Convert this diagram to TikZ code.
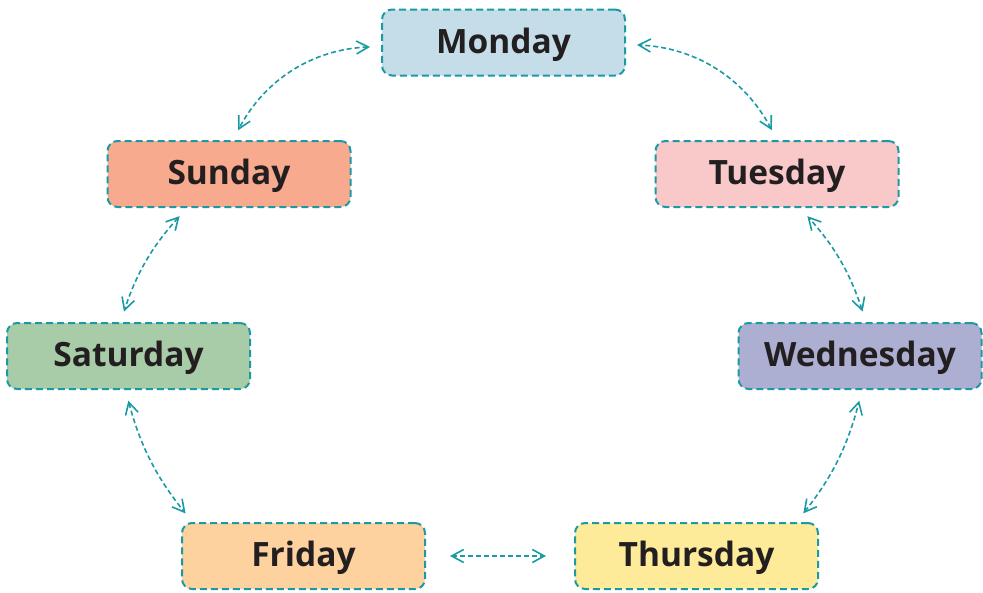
\documentclass[tikz,border=0pt]{standalone}
\usepackage{fontspec}
\setmainfont{Open Sans}
\usetikzlibrary{arrows.meta}
\definecolor{edge}{HTML}{1A9AA2}
\definecolor{txt}{HTML}{231F20}
\definecolor{cmon}{HTML}{C4DDE8}
\definecolor{ctue}{HTML}{F9C8C8}
\definecolor{cwed}{HTML}{ACAED2}
\definecolor{cthu}{HTML}{FDEB99}
\definecolor{cfri}{HTML}{FDD29E}
\definecolor{csat}{HTML}{A8CBA8}
\definecolor{csun}{HTML}{F8AA8F}
\tikzset{
    day/.style={draw=edge, line width=2pt, dash pattern=on 7pt off 4pt,
        rounded corners=10pt, minimum width=243pt, minimum height=66pt,
        text height=26pt, text depth=5pt,
        text=txt, font=\fontsize{33.5}{40}\selectfont\bfseries},
    conn/.style={draw=edge, line width=1.6pt, dash pattern=on 5pt off 3pt,
        {Straight Barb[length=12pt,width=13pt]}-{Straight Barb[length=12pt,width=13pt]},
        shorten <=11pt, shorten >=11pt}
}
\begin{document}
\begin{tikzpicture}[x=1pt,y=-1pt]
\useasboundingbox (0,0) rectangle (983,592);
\node[day, fill=cmon] (mon) at (503.5,42.5) {Monday};
\node[day, fill=csun] (sun) at (229,174) {Sunday};
\node[day, fill=ctue] (tue) at (777,174) {Tuesday};
\node[day, fill=csat] (sat) at (128.5,356) {Saturday};
\node[day, fill=cwed] (wed) at (860,356) {Wednesday};
\node[day, fill=cfri] (fri) at (303.5,556) {Friday};
\node[day, fill=cthu] (thu) at (696.5,556) {Thursday};

% left side
\draw[conn] ([yshift=-4pt]mon.west) to[bend right=30] ([xshift=4pt]sun.north);
\draw[conn] ([xshift=-42pt]sun.south) to[bend right=12] ([xshift=-8pt]sat.north);
\draw[conn] ([xshift=-3pt]sat.south) to[bend right=12] ([xshift=-111pt]fri.north);
% bottom
\draw[conn, shorten <=24pt, shorten >=28pt] (fri.east) -- (thu.west);
% right side
\draw[conn] ([xshift=100pt]thu.north) to[bend right=12] ([xshift=2pt]wed.south);
\draw[conn] ([xshift=6pt]wed.north) to[bend right=12] ([xshift=23pt]tue.south);
\draw[conn] (tue.north) to[bend right=30] ([yshift=-2pt]mon.east);

\end{tikzpicture}
\end{document}
